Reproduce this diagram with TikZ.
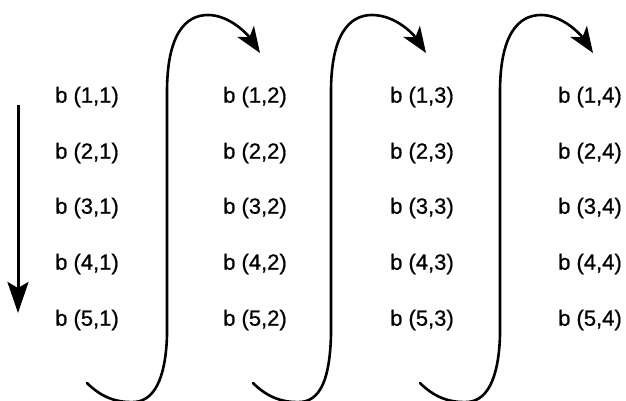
\documentclass[tikz,border=0pt]{standalone}
\usepackage{fontspec}
\setmainfont{Liberation Sans}
\newfontfamily\cellfont{Liberation Sans}[FakeBold=0.7]
\usetikzlibrary{arrows.meta,calc}

\tikzset{
  cell/.style={anchor=west, inner sep=0pt, font=\cellfont\fontsize{22}{26}\selectfont},
  sweep/.style={line width=2.6pt, line cap=round,
    -{Stealth[length=26pt, width=20pt, inset=7pt]}},
  downarrow/.style={line width=3pt,
    -{Stealth[length=31pt, width=21pt, inset=6pt]}}
}

\begin{document}
\begin{tikzpicture}[x=1pt, y=-1pt]
  \useasboundingbox (0,0) rectangle (626,401);

  % matrix entries b(i,j), column by column
  \foreach \j/\xx in {1/55, 2/223, 3/390, 4/558} {
    \foreach \i/\yy in {1/97, 2/153, 3/208, 4/264, 5/320} {
      \node[cell] (b\i\j) at (\xx,\yy) {b (\i,\j)};
    }
  }

  % downward traversal of the first column
  \coordinate (top) at (18,105);
  \coordinate (bot) at (18,313);
  \draw[downarrow] (top) -- (bot);

  % hooks carrying the sweep from one column to the next
  \foreach \k/\dx/\vx in {1/0/167, 2/166/331, 3/333/500} {
    \begin{scope}[xshift=\dx]
      \coordinate (s\k) at (87,383);
      \coordinate (e\k) at (260,53);
    \end{scope}
    \draw[sweep] (s\k)
      .. controls ($(s\k)+(13,13)$) and ($(s\k)+(28,20)$) .. ($(s\k)+(48,19)$)
      .. controls ($(s\k)+(71,17)$) and (\vx-1,370) .. (\vx,335)
      -- (\vx,92)
      .. controls (\vx,35) and (\vx+18,15) .. (\vx+41,15)
      .. controls ($(e\k)+(-30,-38)$) and ($(e\k)+(-12,-18)$) .. (e\k);
  }
\end{tikzpicture}
\end{document}
